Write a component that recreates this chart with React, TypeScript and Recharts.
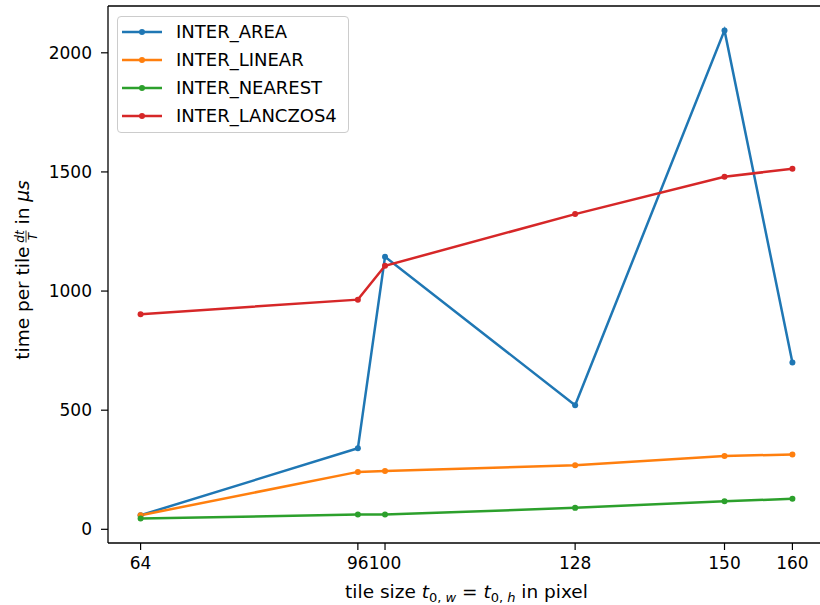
import React from 'react';
import { LineChart, Line, XAxis, YAxis, Legend, ReferenceLine } from 'recharts';

// tile sizes (x) and measured time per tile in µs
const tileSizes = [64, 96, 100, 128, 150, 160];
const interArea = [59, 340, 1144, 521, 2094, 700];
const interLinear = [59, 241, 245, 269, 308, 314];
const interNearest = [45, 62, 62, 90, 118, 128];
const interLanczos4 = [903, 964, 1106, 1323, 1480, 1513];
const yTicks = [0, 500, 1000, 1500, 2000];

const series = [
  { key: 'INTER_AREA', values: interArea, color: '#1f77b4' },
  { key: 'INTER_LINEAR', values: interLinear, color: '#ff7f0e' },
  { key: 'INTER_NEAREST', values: interNearest, color: '#2ca02c' },
  { key: 'INTER_LANCZOS4', values: interLanczos4, color: '#d62728' },
];

const data = tileSizes.map((size, i) => {
  const row: Record<string, number> = { size };
  series.forEach(s => { row[s.key] = s.values[i]; });
  return row;
});

// matplotlib-like 5% margins
const pad = (lo: number, hi: number): [number, number] => [lo - (hi - lo) * 0.05, hi + (hi - lo) * 0.05];
const xDomain = pad(Math.min(...tileSizes), Math.max(...tileSizes));
const allY = series.flatMap(s => s.values);
const yDomain = pad(Math.min(...allY), Math.max(...allY));

const FONT = '"DejaVu Sans", sans-serif';
const FS = 17;
const LABEL_FS = 18.5;

const tickStyle = { fill: '#000', fontSize: FS, fontFamily: FONT };

function LegendBox() {
  return (
    <div style={{
      width: 232, height: 117, boxSizing: 'border-box', border: '1px solid #cccccc', borderRadius: 4,
      background: 'rgba(255,255,255,0.8)', paddingTop: 1, fontFamily: FONT, fontSize: 18, color: '#000',
    }}>
      {series.map(s => (
        <div key={s.key} style={{ display: 'flex', alignItems: 'center', height: 28 }}>
          <svg width={40} height={10} style={{ marginLeft: 4, flex: 'none' }}>
            <line x1={0} y1={5} x2={40} y2={5} stroke={s.color} strokeWidth={2.5} />
            <circle cx={20} cy={5} r={3} fill={s.color} />
          </svg>
          <span style={{ marginLeft: 14, lineHeight: '28px' }}>{s.key}</span>
        </div>
      ))}
    </div>
  );
}

function XLabel(props: any) {
  const vb = props.viewBox || { x: 108, y: 543, width: 717, height: 62 };
  const cx = vb.x + vb.width / 2;
  return (
    <text x={cx} y={vb.y + 55} textAnchor="middle" fontFamily={FONT} fontSize={LABEL_FS} fill="#000">
      <tspan>tile size </tspan>
      <tspan fontStyle="italic">t</tspan>
      <tspan fontSize={13} dy={4}>0, </tspan>
      <tspan fontSize={13} fontStyle="italic">w</tspan>
      <tspan dy={-4}> = </tspan>
      <tspan fontStyle="italic">t</tspan>
      <tspan fontSize={13} dy={4}>0, </tspan>
      <tspan fontSize={13} fontStyle="italic">h</tspan>
      <tspan dy={-4}> in pixel</tspan>
    </text>
  );
}

function YLabel(props: any) {
  const vb = props.viewBox || { x: 0, y: 6, width: 108, height: 537 };
  const cy = vb.y + vb.height / 2;
  return (
    <g transform={`translate(29, ${cy}) rotate(-90)`} fontFamily={FONT} fill="#000">
      <text x={28} y={0} textAnchor="end" fontSize={LABEL_FS}>time per tile</text>
      <text x={38} y={-5} textAnchor="middle" fontSize={12} fontStyle="italic">dt</text>
      <line x1={32} x2={44} y1={-3} y2={-3} stroke="#000" strokeWidth={0.8} />
      <text x={38} y={7.5} textAnchor="middle" fontSize={12} fontStyle="italic">T</text>
      <text x={50} y={0} textAnchor="start" fontSize={LABEL_FS}>
        in <tspan fontStyle="italic">μs</tspan>
      </text>
    </g>
  );
}

export default function App() {
  return (
    <div style={{ position: 'fixed', left: 0, top: 0, width: 820, height: 605, overflow: 'hidden', background: '#fff' }}>
      <LineChart width={830} height={605} data={data} margin={{ top: 6, right: 5, left: 0, bottom: 0 }}>
        <XAxis
          dataKey="size"
          type="number"
          domain={xDomain}
          ticks={tileSizes}
          allowDataOverflow
          height={62}
          tick={tickStyle}
          tickSize={7}
          tickMargin={7}
          tickLine={{ stroke: '#000', strokeWidth: 1.2 }}
          axisLine={{ stroke: '#000', strokeWidth: 1.3 }}
          label={{ content: XLabel }}
        />
        <YAxis
          type="number"
          domain={yDomain}
          ticks={yTicks}
          allowDataOverflow
          width={108}
          tick={tickStyle}
          tickSize={7}
          tickMargin={9}
          tickLine={{ stroke: '#000', strokeWidth: 1.2 }}
          axisLine={{ stroke: '#000', strokeWidth: 1.3 }}
          label={{ content: YLabel }}
        />
        <ReferenceLine y={yDomain[1]} stroke="#000" strokeWidth={1.3} ifOverflow="extendDomain" />
        <ReferenceLine x={xDomain[1]} stroke="#000" strokeWidth={1.3} ifOverflow="extendDomain" />
        {series.map(s => (
          <Line
            key={s.key}
            type="linear"
            dataKey={s.key}
            stroke={s.color}
            strokeWidth={2.5}
            dot={{ r: 3, fill: s.color, stroke: 'none' }}
            activeDot={false}
            isAnimationActive={false}
          />
        ))}
        <Legend
          layout="vertical"
          align="center"
          verticalAlign="middle"
          content={() => <LegendBox />}
          wrapperStyle={{ position: 'absolute', left: 117, top: 16, width: 232, height: 117 }}
        />
      </LineChart>
    </div>
  );
}
